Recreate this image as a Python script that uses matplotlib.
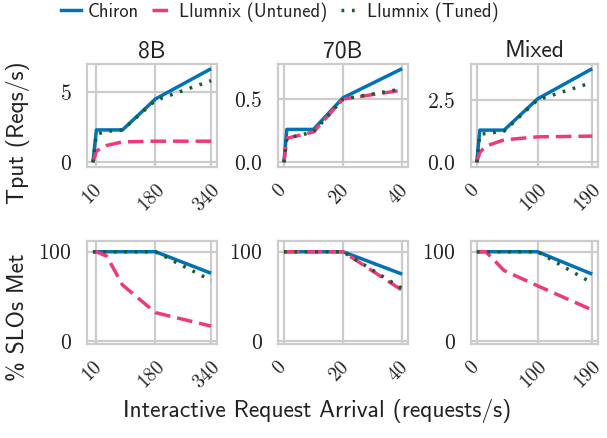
import matplotlib
matplotlib.use("Agg")
import matplotlib.pyplot as plt
from matplotlib.lines import Line2D
import matplotlib.transforms as mtransforms
import warnings
warnings.filterwarnings("ignore")

plt.rcParams['mathtext.fontset'] = 'cm'
plt.rcParams['font.family'] = ['cmss10', 'DejaVu Sans']
plt.rcParams['axes.unicode_minus'] = False

# ---------------- data ----------------
titles = ["8B", "70B", "Mixed"]
series_names = ["Chiron", "Llumnix (Untuned)", "Llumnix (Tuned)"]

x_8b = [0, 10, 40, 85, 180, 340]
x_70b = [0, 1, 10, 20, 40]
x_mixed = [0, 5, 15, 45, 100, 190]

tput_8b_chiron = [0, 2.3, 2.3, 2.3, 4.5, 6.65]
tput_8b_untuned = [0, 0.8, 1.2, 1.45, 1.5, 1.5]
tput_8b_tuned = [0, 2.0, 2.2, 2.3, 4.4, 5.8]
slo_8b_chiron = [100, 100, 100, 100, 100, 76]
slo_8b_untuned = [100, 100, 95, 63, 32, 17]
slo_8b_tuned = [100, 100, 100, 100, 100, 68]

tput_70b_chiron = [0, 0.26, 0.26, 0.51, 0.74]
tput_70b_untuned = [0, 0.19, 0.24, 0.5, 0.57]
tput_70b_tuned = [0, 0.19, 0.24, 0.5, 0.58]
slo_70b_chiron = [100, 100, 100, 100, 75]
slo_70b_untuned = [100, 100, 100, 100, 57]
slo_70b_tuned = [100, 100, 100, 100, 59]

tput_mixed_chiron = [0, 1.29, 1.29, 1.29, 2.54, 3.75]
tput_mixed_untuned = [0, 0.4, 0.65, 0.9, 1.02, 1.05]
tput_mixed_tuned = [0, 1.13, 1.15, 1.25, 2.5, 3.2]
slo_mixed_chiron = [100, 100, 100, 100, 100, 75]
slo_mixed_untuned = [100, 100, 100, 79, 62, 35]
slo_mixed_tuned = [100, 100, 100, 100, 100, 65]

xticks_all = [[10, 180, 340], [0, 20, 40], [0, 100, 190]]
tput_yticks = [[0, 5], [0.0, 0.5], [0.0, 2.5]]
tput_yticklabels = [["0", "5"], ["0.0", "0.5"], ["0.0", "2.5"]]
slo_yticks = [0, 100]
slo_yticklabels = ["0", "100"]

# ---------------- style ----------------
colors = ["#0173b2", "#ee3a7c", "#1d5a2c"]
styles = [dict(linestyle="-"), dict(linestyle=(0, (4.5, 2.0))), dict(linestyle=(0, (0.8, 2.2)))]
LW = 2.5
GRID = "#cccccc"
TXT = "#222222"

W, H = 607, 438
fig = plt.figure(figsize=(W / 100, H / 100), dpi=100)

cols_px = [(87, 130), (278, 130), (471, 127)]
rows_px = [(64, 103), (241, 103)]
ylabel_ypos = [0.33, 0.26]

xs = [x_8b, x_70b, x_mixed]
tputs = [[tput_8b_chiron, tput_8b_untuned, tput_8b_tuned],
         [tput_70b_chiron, tput_70b_untuned, tput_70b_tuned],
         [tput_mixed_chiron, tput_mixed_untuned, tput_mixed_tuned]]
slos = [[slo_8b_chiron, slo_8b_untuned, slo_8b_tuned],
        [slo_70b_chiron, slo_70b_untuned, slo_70b_tuned],
        [slo_mixed_chiron, slo_mixed_untuned, slo_mixed_tuned]]

shift = mtransforms.ScaledTranslation(-4 / 100, 0, fig.dpi_scale_trans)


def style_ax(ax):
    ax.set_facecolor("white")
    for s in ax.spines.values():
        s.set_color(GRID)
        s.set_linewidth(1.6)
    ax.grid(True, color=GRID, linewidth=1.6)
    ax.set_axisbelow(True)
    ax.tick_params(axis="y", length=0, pad=11, labelsize=15.5, colors=TXT)
    ax.tick_params(axis="x", length=0, pad=10, labelsize=14, colors=TXT)


for r, (top, h) in enumerate(rows_px):
    for c, (left, w) in enumerate(cols_px):
        ax = fig.add_axes([left / W, 1 - (top + h) / H, w / W, h / H])
        style_ax(ax)
        data = tputs[c] if r == 0 else slos[c]
        for k in range(3):
            ax.plot(xs[c], data[k], color=colors[k], lw=LW,
                    solid_capstyle="butt", dash_capstyle="butt", **styles[k])
        ax.set_xticks(xticks_all[c])
        ax.set_xticklabels([f"${v}$" for v in xticks_all[c]], rotation=45, ha="center")
        for lab in ax.get_xticklabels():
            lab.set_transform(lab.get_transform() + shift)
        if r == 0:
            ax.set_yticks(tput_yticks[c])
            ax.set_yticklabels([f"${t}$" for t in tput_yticklabels[c]])
            ax.set_title(titles[c], fontsize=17, pad=5, color=TXT)
        else:
            ax.set_yticks(slo_yticks)
            ax.set_yticklabels([f"${t}$" for t in slo_yticklabels])
            ax.set_ylim(-3, 112)
        if c == 0:
            ax.set_ylabel("Tput (Reqs/s)" if r == 0 else "% SLOs Met",
                          fontsize=17, color=TXT, va="center")
            ax.yaxis.set_label_coords((18 - left) / w, ylabel_ypos[r])

fig.text(317 / W, 1 - 411 / H, "Interactive Request Arrival (requests/s)",
         ha="center", va="center", fontsize=17, color=TXT)

handles = [Line2D([0], [0], color=colors[k], lw=LW, **styles[k]) for k in range(3)]
fig.legend(handles, series_names, loc="center", bbox_to_anchor=(280 / W, 1 - 12 / H),
           ncol=3, frameon=False, fontsize=13.3, handlelength=1.05, handletextpad=0.37,
           columnspacing=0.75, labelcolor=TXT, borderpad=0.1)

fig.savefig("out.png", dpi=100)
